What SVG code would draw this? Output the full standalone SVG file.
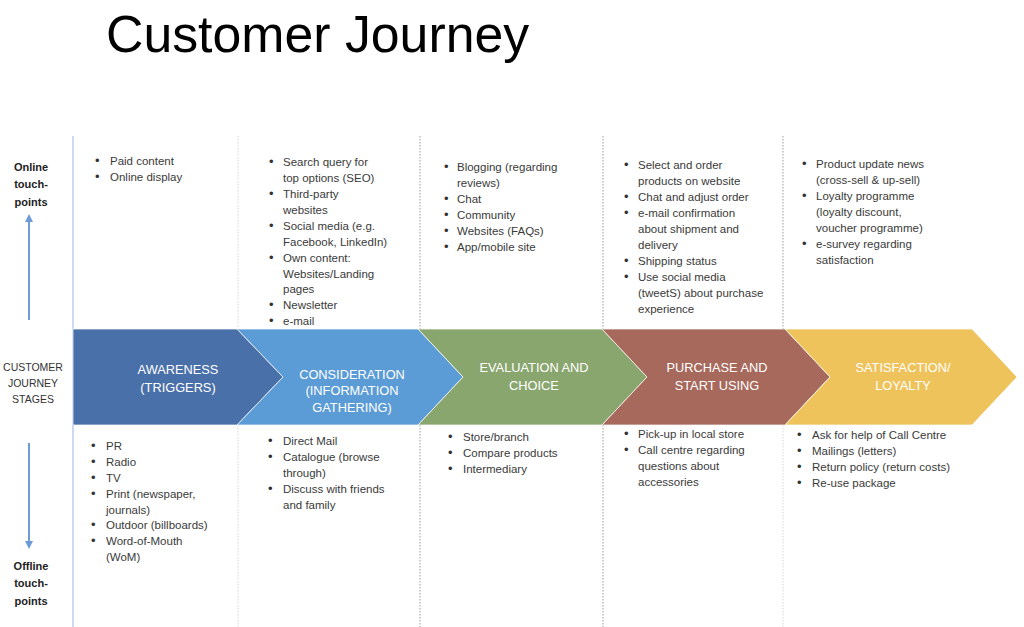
<svg xmlns="http://www.w3.org/2000/svg" width="1024" height="627" viewBox="0 0 1024 627">
<style>
.title{font-family:"Liberation Sans",Arial,sans-serif;font-size:51.8px;fill:#000}
.t{font-family:"Liberation Sans",Arial,sans-serif;font-size:11.5px;fill:#3a3a3a}
.b{font-family:"Liberation Sans",Arial,sans-serif;font-size:13px;fill:#333}
.side{font-family:"Liberation Sans",Arial,sans-serif;font-size:10.5px;fill:#333;text-anchor:middle}
.sideb{font-family:"Liberation Sans",Arial,sans-serif;font-size:11px;font-weight:bold;fill:#222;text-anchor:middle}
.ch{font-family:"Liberation Sans",Arial,sans-serif;font-size:12.8px;fill:#fff;text-anchor:middle}
.sep{stroke:#9a9a9a;stroke-width:1;stroke-dasharray:1.5 1.5}
.sepl{stroke:#d6d6d6;stroke-width:1;stroke-dasharray:1.5 1.5}
.arr{stroke:#6f9bd4;stroke-width:2;fill:none}
.chev{stroke:#fff;stroke-width:1;stroke-opacity:0.7}
</style>
<defs>
<marker id="ah" viewBox="0 0 10 10" refX="5" refY="5" markerWidth="4" markerHeight="4" orient="auto-start-reverse">
<path d="M0,0 L10,5 L0,10 z" fill="#6f9bd4"/>
</marker>
</defs>
<rect width="1024" height="627" fill="#fff"/>
<text class="title" x="106" y="52">Customer Journey</text>

<g id="grid">
<line x1="73" y1="136" x2="73" y2="627" stroke="#a8c2e3" stroke-width="1.2"/>
<line class="sepl" x1="238" y1="136" x2="238" y2="329"/>
<line class="sep" x1="420" y1="136" x2="420" y2="329"/>
<line class="sep" x1="603" y1="136" x2="603" y2="329"/>
<line class="sep" x1="783" y1="136" x2="783" y2="329"/>
<line class="sepl" x1="238" y1="425" x2="238" y2="627"/>
<line class="sep" x1="420" y1="425" x2="420" y2="627"/>
<line class="sep" x1="603" y1="425" x2="603" y2="627"/>
<line class="sepl" x1="783" y1="425" x2="783" y2="627"/>
</g>

<g id="labels-left">
<text class="sideb" x="31" y="171">Online</text>
<text class="sideb" x="31" y="188">touch-</text>
<text class="sideb" x="31" y="206">points</text>
<text class="side" x="33" y="371">CUSTOMER</text>
<text class="side" x="33" y="387">JOURNEY</text>
<text class="side" x="33" y="403">STAGES</text>
<text class="sideb" x="31" y="570">Offline</text>
<text class="sideb" x="31" y="587">touch-</text>
<text class="sideb" x="31" y="605">points</text>
</g>

<g id="connectors">
<line class="arr" x1="29" y1="320" x2="29" y2="218" marker-end="url(#ah)"/>
<line class="arr" x1="29" y1="443" x2="29" y2="545" marker-end="url(#ah)"/>
</g>

<g id="awareness">
<polygon class="chev" points="73,329 237,329 283,377 237,425 73,425" fill="#4a70a9"/>
<text class="ch" x="178" y="374">AWARENESS</text>
<text class="ch" x="178" y="392">(TRIGGERS)</text>
</g>
<g id="consideration">
<polygon class="chev" points="237,329 418,329 463,377 418,425 237,425 283,377" fill="#5b9bd6"/>
<text class="ch" x="352" y="379">CONSIDERATION</text>
<text class="ch" x="352" y="395">(INFORMATION</text>
<text class="ch" x="352" y="412">GATHERING)</text>
</g>
<g id="evaluation">
<polygon class="chev" points="418,329 602,329 647,377 602,425 418,425 463,377" fill="#8aa66f"/>
<text class="ch" x="534" y="372">EVALUATION  AND</text>
<text class="ch" x="534" y="390">CHOICE</text>
</g>
<g id="purchase">
<polygon class="chev" points="602,329 785,329 830,377 785,425 602,425 647,377" fill="#a6695b"/>
<text class="ch" x="717" y="372">PURCHASE AND</text>
<text class="ch" x="717" y="390">START USING</text>
</g>
<g id="satisfaction">
<polygon class="chev" points="785,329 972,329 1017,377 972,425 785,425 830,377" fill="#efc35b"/>
<text class="ch" x="903" y="372">SATISFACTION/</text>
<text class="ch" x="903" y="390">LOYALTY</text>
</g>

<g id="online-awareness">
<text class="b" x="95" y="165">•</text><text class="t" x="110" y="165">Paid content</text>
<text class="b" x="95" y="181">•</text><text class="t" x="110" y="181">Online display</text>
</g>
<g id="online-consideration">
<text class="b" x="269" y="166">•</text><text class="t" x="283" y="166">Search query for</text>
<text class="t" x="283" y="182">top options (SEO)</text>
<text class="b" x="269" y="198">•</text><text class="t" x="283" y="198">Third-party</text>
<text class="t" x="283" y="214">websites</text>
<text class="b" x="269" y="230">•</text><text class="t" x="283" y="230">Social media (e.g.</text>
<text class="t" x="283" y="246">Facebook, LinkedIn)</text>
<text class="b" x="269" y="262">•</text><text class="t" x="283" y="262">Own content:</text>
<text class="t" x="283" y="278">Websites/Landing</text>
<text class="t" x="283" y="293">pages</text>
<text class="b" x="269" y="309">•</text><text class="t" x="283" y="309">Newsletter</text>
<text class="b" x="269" y="325">•</text><text class="t" x="283" y="325">e-mail</text>
</g>
<g id="online-evaluation">
<text class="b" x="444" y="171">•</text><text class="t" x="457" y="171">Blogging (regarding</text>
<text class="t" x="457" y="187">reviews)</text>
<text class="b" x="444" y="203">•</text><text class="t" x="457" y="203">Chat</text>
<text class="b" x="444" y="219">•</text><text class="t" x="457" y="219">Community</text>
<text class="b" x="444" y="235">•</text><text class="t" x="457" y="235">Websites (FAQs)</text>
<text class="b" x="444" y="251">•</text><text class="t" x="457" y="251">App/mobile site</text>
</g>
<g id="online-purchase">
<text class="b" x="624" y="169">•</text><text class="t" x="638" y="169">Select and order</text>
<text class="t" x="638" y="185">products on website</text>
<text class="b" x="624" y="201">•</text><text class="t" x="638" y="201">Chat and adjust order</text>
<text class="b" x="624" y="217">•</text><text class="t" x="638" y="217">e-mail confirmation</text>
<text class="t" x="638" y="233">about shipment and</text>
<text class="t" x="638" y="249">delivery</text>
<text class="b" x="624" y="265">•</text><text class="t" x="638" y="265">Shipping status</text>
<text class="b" x="624" y="281">•</text><text class="t" x="638" y="281">Use social media</text>
<text class="t" x="638" y="297">(tweetS) about purchase</text>
<text class="t" x="638" y="313">experience</text>
</g>
<g id="online-satisfaction">
<text class="b" x="802" y="168">•</text><text class="t" x="816" y="168">Product update news</text>
<text class="t" x="816" y="184">(cross-sell &amp; up-sell)</text>
<text class="b" x="802" y="200">•</text><text class="t" x="816" y="200">Loyalty programme</text>
<text class="t" x="816" y="216">(loyalty discount,</text>
<text class="t" x="816" y="232">voucher programme)</text>
<text class="b" x="802" y="248">•</text><text class="t" x="816" y="248">e-survey regarding</text>
<text class="t" x="816" y="264">satisfaction</text>
</g>

<g id="offline-awareness">
<text class="b" x="91" y="450">•</text><text class="t" x="106" y="450">PR</text>
<text class="b" x="91" y="466">•</text><text class="t" x="106" y="466">Radio</text>
<text class="b" x="91" y="482">•</text><text class="t" x="106" y="482">TV</text>
<text class="b" x="91" y="498">•</text><text class="t" x="106" y="498">Print (newspaper,</text>
<text class="t" x="106" y="514">journals)</text>
<text class="b" x="91" y="529">•</text><text class="t" x="106" y="529">Outdoor (billboards)</text>
<text class="b" x="91" y="545">•</text><text class="t" x="106" y="545">Word-of-Mouth</text>
<text class="t" x="106" y="561">(WoM)</text>
</g>
<g id="offline-consideration">
<text class="b" x="268" y="445">•</text><text class="t" x="283" y="445">Direct Mail</text>
<text class="b" x="268" y="461">•</text><text class="t" x="283" y="461">Catalogue (browse</text>
<text class="t" x="283" y="477">through)</text>
<text class="b" x="268" y="493">•</text><text class="t" x="283" y="493">Discuss with friends</text>
<text class="t" x="283" y="509">and family</text>
</g>
<g id="offline-evaluation">
<text class="b" x="448" y="441">•</text><text class="t" x="463" y="441">Store/branch</text>
<text class="b" x="448" y="457">•</text><text class="t" x="463" y="457">Compare products</text>
<text class="b" x="448" y="473">•</text><text class="t" x="463" y="473">Intermediary</text>
</g>
<g id="offline-purchase">
<text class="b" x="624" y="438">•</text><text class="t" x="638" y="438">Pick-up in local store</text>
<text class="b" x="624" y="454">•</text><text class="t" x="638" y="454">Call centre regarding</text>
<text class="t" x="638" y="470">questions about</text>
<text class="t" x="638" y="486">accessories</text>
</g>
<g id="offline-satisfaction">
<text class="b" x="797" y="439">•</text><text class="t" x="812" y="439">Ask for help of Call Centre</text>
<text class="b" x="797" y="455">•</text><text class="t" x="812" y="455">Mailings (letters)</text>
<text class="b" x="797" y="471">•</text><text class="t" x="812" y="471">Return policy (return costs)</text>
<text class="b" x="797" y="487">•</text><text class="t" x="812" y="487">Re-use package</text>
</g>
</svg>
